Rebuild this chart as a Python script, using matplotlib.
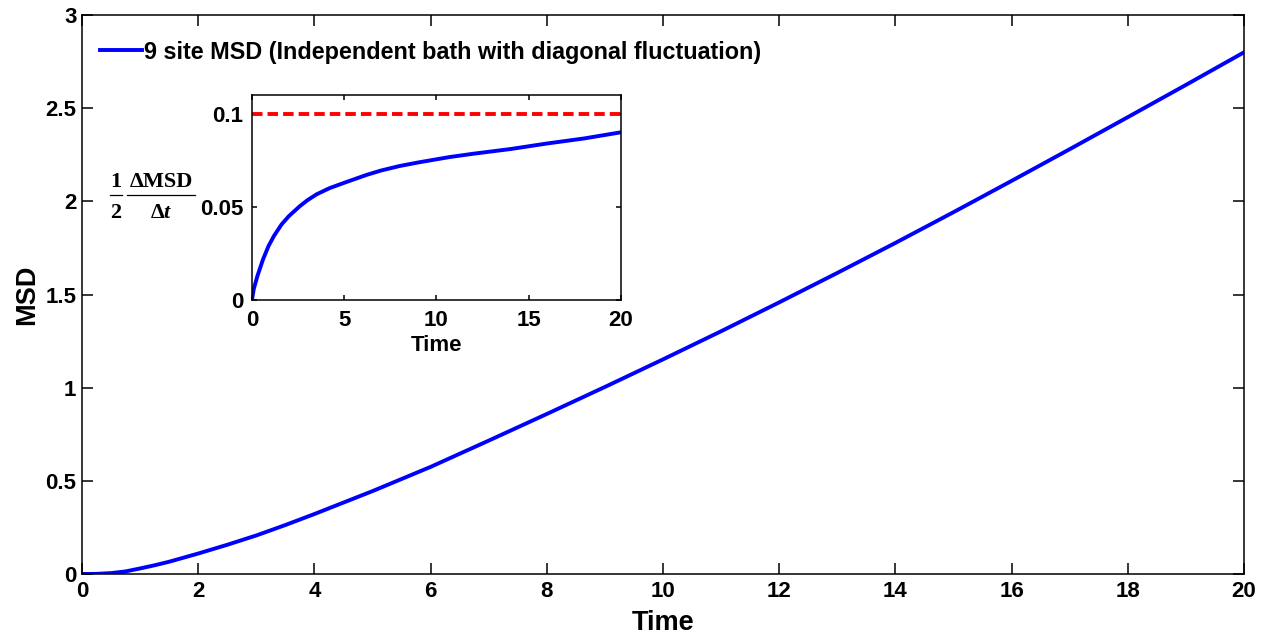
import matplotlib
matplotlib.use("Agg")
import matplotlib.pyplot as plt
from matplotlib.lines import Line2D

plt.rcParams['font.family'] = ['Liberation Sans', 'DejaVu Sans']
plt.rcParams['font.weight'] = 'bold'
plt.rcParams['mathtext.fontset'] = 'custom'
plt.rcParams['mathtext.rm'] = 'Liberation Serif:bold'
plt.rcParams['mathtext.it'] = 'Liberation Serif:italic:bold'

# main curve: MSD vs time
t_main = [0, 0.25, 0.5, 0.75, 1, 1.25, 1.5, 2, 2.5, 3, 3.5, 4, 5, 6, 7, 8, 9, 10, 11, 12, 13, 14, 15, 16, 17, 18, 19, 20]
msd = [0, 0.001, 0.005, 0.014, 0.03, 0.047, 0.066, 0.11, 0.157, 0.207, 0.263, 0.322, 0.445, 0.575, 0.716, 0.859, 1.004, 1.152, 1.303, 1.458, 1.616, 1.777, 1.942, 2.11, 2.28, 2.452, 2.625, 2.80]

# inset: half the time derivative of MSD
t_ins = [0, 0.1, 0.3, 0.6, 0.9, 1.2, 1.6, 2.0, 2.6, 3.0, 3.5, 4.2, 5, 6.2, 7, 8, 9, 10.7, 12, 14, 16, 18, 20]
half_dmsd = [0, 0.006, 0.013, 0.0218, 0.029, 0.0345, 0.0405, 0.045, 0.0504, 0.0535, 0.0567, 0.0600, 0.0629, 0.0671, 0.0695, 0.0719, 0.0738, 0.0767, 0.0785, 0.081, 0.084, 0.0867, 0.090]
limit = 0.1

legend_label = '9 site MSD (Independent bath with diagonal fluctuation)'

W, H = 1268, 634
fig = plt.figure(figsize=(12.68, 6.34), dpi=100)
ax = fig.add_axes([0.0647, 0.0946, 0.9164, 0.8817])
ax.plot(t_main, msd, color='blue', lw=2.8, label=legend_label, solid_joinstyle='round')
ax.set_xlim(0, 20)
ax.set_ylim(0, 3)
ax.set_xticks(range(0, 21, 2))
ax.set_yticks([0, 0.5, 1, 1.5, 2, 2.5, 3])
ax.set_yticklabels(['0', '0.5', '1', '1.5', '2', '2.5', '3'])
ax.tick_params(direction='in', top=True, right=True, length=8, width=1.1, labelsize=16)
ax.tick_params(axis='x', pad=5)
ax.tick_params(axis='y', pad=4)
ax.set_xlabel('Time', fontsize=19.5, fontweight='bold', labelpad=6)
ax.set_ylabel('MSD', fontsize=19.5, fontweight='bold', labelpad=4)
for s in ax.spines.values():
    s.set_linewidth(1.1)
fig.legend(loc='center left', bbox_to_anchor=(100 / W, 1 - 52 / H), frameon=False,
           fontsize=16.8, handlelength=1.8, handletextpad=0.1, borderpad=0, borderaxespad=0)

ins = fig.add_axes([0.1987, 0.5268, 0.291, 0.3233])
ins.plot(t_ins, half_dmsd, color='blue', lw=2.8, solid_joinstyle='round')
ins.axhline(limit, color='red', lw=2.8, ls=(0, (2.7, 1.3)))
ins.set_xlim(0, 20)
ins.set_ylim(0, 0.11)
ins.set_xticks([0, 5, 10, 15, 20])
ins.set_yticks([0, 0.05, 0.1])
ins.set_yticklabels(['0', '0.05', '0.1'])
ins.tick_params(direction='in', top=True, right=True, length=3.5, width=1.1, labelsize=16, pad=6)
ins.tick_params(axis='x', pad=7)
ins.set_xlabel('Time', fontsize=16, fontweight='bold', labelpad=3)
for s in ins.spines.values():
    s.set_linewidth(1.1)

# inset y label: (1/2) * dMSD/dt, built as two stacked fractions
def px(x, y):
    return x / W, 1 - y / H

frac_kw = dict(fontsize=16, ha='center', va='baseline', family='Liberation Serif', fontweight='bold')
fig.text(*px(116, 187), '1', **frac_kw)
fig.text(*px(116, 218), '2', **frac_kw)
fig.text(*px(161, 187), '\u0394MSD', **frac_kw)
fig.text(*px(161, 218), r'$\Delta t$', **frac_kw)
for x0, x1 in [(110, 122), (127, 195)]:
    fig.add_artist(Line2D([x0 / W, x1 / W], [1 - 195 / H, 1 - 195 / H], color='black', lw=0.9,
                          transform=fig.transFigure))

fig.savefig('out.png', dpi=100)
